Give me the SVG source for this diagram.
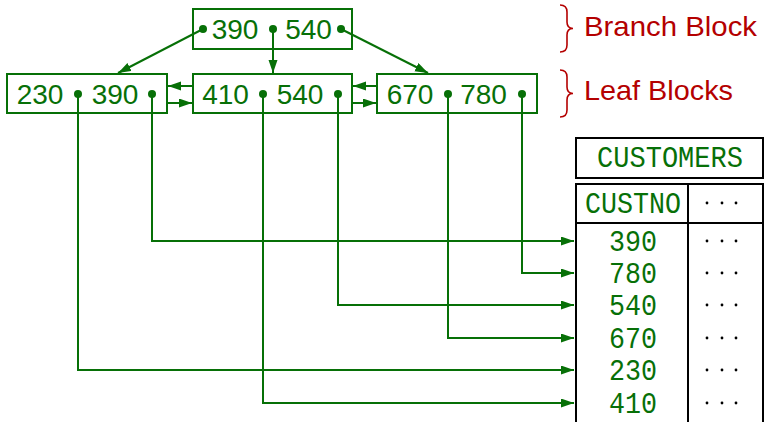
<svg xmlns="http://www.w3.org/2000/svg" width="764" height="422" viewBox="0 0 764 422">
<style>
.blk{fill:none;stroke:#077007;stroke-width:2}
.num{font-family:"Liberation Sans",Arial,sans-serif;font-size:28px;fill:#077007;text-anchor:middle}
.dot{fill:#077007}
.con{fill:none;stroke:#077007;stroke-width:2}
.lbl{font-family:"Liberation Sans",Arial,sans-serif;font-size:28px;fill:#B40000}
.brace{fill:none;stroke:#B40000;stroke-width:1.6}
.tab{fill:none;stroke:#000;stroke-width:2}
.tt{font-family:"Liberation Mono","Courier New",monospace;font-size:29px;fill:#077007;text-anchor:middle}
.bd{fill:#000}
</style>
<defs>
<marker id="ah" markerUnits="userSpaceOnUse" markerWidth="14" markerHeight="10" refX="13" refY="4.5" orient="auto">
<path d="M0,0 L13,4.5 L0,9 z" fill="#077007"/>
</marker>
</defs>

<g id="connectors">
<line class="con" x1="203" y1="29" x2="118" y2="73" marker-end="url(#ah)"/>
<line class="con" x1="273" y1="29" x2="273" y2="73" marker-end="url(#ah)"/>
<line class="con" x1="341" y1="29" x2="428" y2="73" marker-end="url(#ah)"/>
<line class="con" x1="193" y1="86" x2="168" y2="86" marker-end="url(#ah)"/>
<line class="con" x1="167" y1="103" x2="192" y2="103" marker-end="url(#ah)"/>
<line class="con" x1="377" y1="86" x2="353" y2="86" marker-end="url(#ah)"/>
<line class="con" x1="352" y1="103" x2="376" y2="103" marker-end="url(#ah)"/>
<polyline class="con" points="152,94 152,241 574,241" marker-end="url(#ah)"/>
<polyline class="con" points="522,94 522,273 574,273" marker-end="url(#ah)"/>
<polyline class="con" points="338,94 338,305 574,305" marker-end="url(#ah)"/>
<polyline class="con" points="448,94 448,338 574,338" marker-end="url(#ah)"/>
<polyline class="con" points="78,94 78,370 574,370" marker-end="url(#ah)"/>
<polyline class="con" points="263,94 263,403 574,403" marker-end="url(#ah)"/>
</g>

<g id="branch">
<rect class="blk" x="193" y="9" width="159" height="40"/>
<text class="num" x="235" y="39">390</text>
<text class="num" x="308.5" y="39">540</text>
<circle class="dot" cx="203" cy="29" r="4"/>
<circle class="dot" cx="273" cy="29" r="4"/>
<circle class="dot" cx="341" cy="29" r="4"/>
</g>

<g id="leaf1">
<rect class="blk" x="7" y="74" width="160" height="39"/>
<text class="num" x="40" y="104">230</text>
<text class="num" x="115" y="104">390</text>
<circle class="dot" cx="78" cy="94" r="4"/>
<circle class="dot" cx="152" cy="94" r="4"/>
</g>

<g id="leaf2">
<rect class="blk" x="193" y="74" width="159" height="39"/>
<text class="num" x="225.5" y="104">410</text>
<text class="num" x="300" y="104">540</text>
<circle class="dot" cx="263" cy="94" r="4"/>
<circle class="dot" cx="338" cy="94" r="4"/>
</g>

<g id="leaf3">
<rect class="blk" x="377" y="74" width="160" height="39"/>
<text class="num" x="410" y="104">670</text>
<text class="num" x="483.5" y="104">780</text>
<circle class="dot" cx="448" cy="94" r="4"/>
<circle class="dot" cx="522" cy="94" r="4"/>
</g>

<g id="labels">
<path class="brace" d="M560,5 Q567,5 567,12 L567,22 Q567,28.5 573,28.5 Q567,28.5 567,35 L567,45 Q567,52 560,52"/>
<text class="lbl" x="584" y="36" textLength="173" lengthAdjust="spacingAndGlyphs">Branch Block</text>
<path class="brace" d="M560,70 Q567,70 567,77 L567,87 Q567,93.5 573,93.5 Q567,93.5 567,100 L567,110 Q567,117 560,117"/>
<text class="lbl" x="584" y="100" textLength="149" lengthAdjust="spacingAndGlyphs">Leaf Blocks</text>
</g>

<g id="customers">
<rect class="tab" x="576" y="138" width="187" height="40"/>
<text class="tt" x="670" y="167" textLength="146" lengthAdjust="spacingAndGlyphs">CUSTOMERS</text>
<polyline class="tab" points="576,423 576,184 763,184 763,423"/>
<line class="tab" x1="576" y1="223" x2="763" y2="223"/>
<line class="tab" x1="688" y1="184" x2="688" y2="423"/>
<text class="tt" x="633" y="213" textLength="96" lengthAdjust="spacingAndGlyphs">CUSTNO</text>
<g class="bd">
<circle cx="707" cy="203" r="1.4"/><circle cx="722" cy="203" r="1.4"/><circle cx="736" cy="203" r="1.4"/>
<circle cx="707" cy="241" r="1.4"/><circle cx="722" cy="241" r="1.4"/><circle cx="736" cy="241" r="1.4"/>
<circle cx="707" cy="273" r="1.4"/><circle cx="722" cy="273" r="1.4"/><circle cx="736" cy="273" r="1.4"/>
<circle cx="707" cy="305" r="1.4"/><circle cx="722" cy="305" r="1.4"/><circle cx="736" cy="305" r="1.4"/>
<circle cx="707" cy="338" r="1.4"/><circle cx="722" cy="338" r="1.4"/><circle cx="736" cy="338" r="1.4"/>
<circle cx="707" cy="370" r="1.4"/><circle cx="722" cy="370" r="1.4"/><circle cx="736" cy="370" r="1.4"/>
<circle cx="707" cy="403" r="1.4"/><circle cx="722" cy="403" r="1.4"/><circle cx="736" cy="403" r="1.4"/>
</g>
<text class="tt" x="633" y="251" textLength="48" lengthAdjust="spacingAndGlyphs">390</text>
<text class="tt" x="633" y="283" textLength="48" lengthAdjust="spacingAndGlyphs">780</text>
<text class="tt" x="633" y="315" textLength="48" lengthAdjust="spacingAndGlyphs">540</text>
<text class="tt" x="633" y="348" textLength="48" lengthAdjust="spacingAndGlyphs">670</text>
<text class="tt" x="633" y="380" textLength="48" lengthAdjust="spacingAndGlyphs">230</text>
<text class="tt" x="633" y="413" textLength="48" lengthAdjust="spacingAndGlyphs">410</text>
</g>
</svg>
